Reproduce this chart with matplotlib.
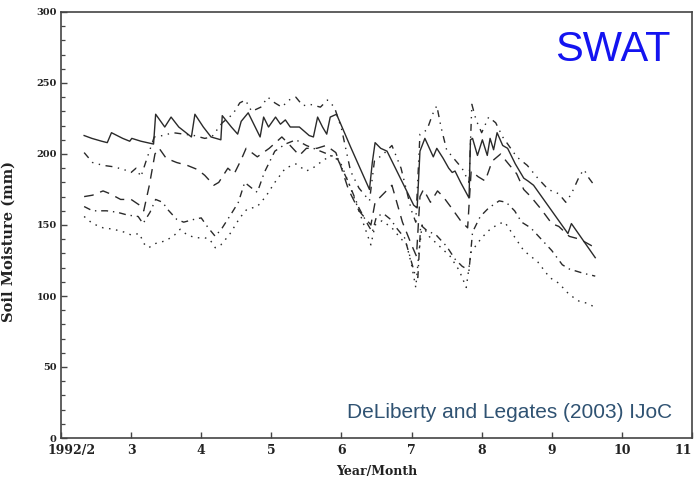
import matplotlib
matplotlib.use("Agg")
import matplotlib.pyplot as plt
from matplotlib.ticker import MultipleLocator, FixedLocator

plt.rcParams['lines.scale_dashes'] = False

# ---- data (x = month of 1992, y = soil moisture in mm) ----
solid_x = [2.33, 2.44, 2.58, 2.66, 2.72, 2.88, 2.98, 3.01, 3.14, 3.32, 3.35, 3.48, 3.57, 3.68, 3.86,
           3.91, 4.03, 4.14, 4.28, 4.30, 4.43, 4.52, 4.57, 4.67, 4.77, 4.84, 4.89, 4.96, 5.06, 5.13,
           5.20, 5.27, 5.40, 5.47, 5.54, 5.60, 5.66, 5.73, 5.79, 5.84, 5.93, 6.13, 6.40, 6.44, 6.48,
           6.56, 6.65, 6.69, 7.03, 7.08, 7.12, 7.19, 7.31, 7.36, 7.45, 7.53, 7.58, 7.62, 7.70, 7.82,
           7.84, 7.87, 7.94, 8.01, 8.08, 8.12, 8.17, 8.22, 8.30, 8.37, 8.48, 8.60, 8.66, 8.74, 9.23,
           9.28, 9.62]
solid_y = [213, 211, 209, 208, 215, 211, 209, 211, 209, 207, 228, 219, 226, 219, 212,
           228, 219, 212, 210, 227, 219, 214, 223, 229, 219, 212, 226, 219, 226, 221,
           224, 219, 219, 216, 213, 212, 226, 219, 214, 226, 228, 205, 175, 194, 208,
           204, 202, 198, 164, 162, 202, 211, 198, 204, 197, 190, 187, 188, 180, 169,
           210, 211, 199, 210, 199, 211, 203, 215, 206, 204, 193, 183, 181, 178, 144,
           151, 127]

ddot_x = [2.33, 2.45, 2.60, 2.75, 2.90, 3.00, 3.07, 3.14, 3.22, 3.33, 3.45, 3.60, 3.75, 3.90, 4.05,
          4.15, 4.30, 4.45, 4.55, 4.63, 4.72, 4.85, 4.95, 5.05, 5.15, 5.25, 5.35, 5.45, 5.55, 5.70,
          5.80, 5.90, 6.00, 6.13, 6.25, 6.40, 6.47, 6.60, 6.72, 6.85, 7.00, 7.06, 7.12, 7.22, 7.30,
          7.36, 7.42, 7.50, 7.60, 7.72, 7.82, 7.86, 7.92, 8.00, 8.10, 8.20, 8.30, 8.40, 8.50, 8.65,
          8.80, 8.95, 9.10, 9.20, 9.28, 9.40, 9.46, 9.53, 9.62]
ddot_y = [201, 194, 192, 191, 189, 187, 190, 184, 196, 212, 213, 215, 214, 213, 211,
          212, 222, 228, 236, 238, 230, 233, 240, 236, 233, 238, 240, 234, 235, 233,
          238, 233, 218, 188, 176, 167, 195, 200, 206, 190, 160, 152, 214, 217, 228,
          234, 219, 203, 197, 190, 180, 235, 224, 215, 226, 222, 212, 205, 198, 192,
          183, 175, 172, 166, 172, 185, 189, 183, 177]

dash_x = [2.33, 2.45, 2.60, 2.70, 2.85, 3.00, 3.12, 3.18, 3.26, 3.34, 3.40, 3.50, 3.65, 3.80, 3.95,
          4.05, 4.18, 4.25, 4.38, 4.47, 4.57, 4.64, 4.80, 4.97, 5.15, 5.25, 5.40, 5.50, 5.65, 5.78,
          5.92, 6.00, 6.10, 6.25, 6.42, 6.48, 6.60, 6.72, 6.87, 7.00, 7.07, 7.12, 7.17, 7.27, 7.37,
          7.45, 7.57, 7.70, 7.80, 7.85, 7.95, 8.05, 8.15, 8.27, 8.35, 8.50, 8.60, 8.70, 8.85, 9.00,
          9.10, 9.25, 9.40, 9.62]
dash_y = [170, 171, 174, 172, 168, 168, 164, 160, 178, 200, 204, 197, 194, 192, 189,
          185, 178, 180, 190, 186, 196, 204, 198, 204, 212, 207, 199, 204, 204, 206,
          201, 190, 175, 160, 150, 166, 172, 178, 152, 136, 128, 170, 175, 166, 174,
          170, 162, 153, 148, 188, 184, 181, 195, 200, 195, 186, 175, 170, 161, 151,
          149, 142, 140, 134]

dashdot_x = [2.33, 2.45, 2.65, 2.80, 2.95, 3.10, 3.17, 3.27, 3.35, 3.45, 3.52, 3.65, 3.75, 3.90, 4.00,
             4.10, 4.20, 4.30, 4.43, 4.53, 4.62, 4.72, 4.80, 4.90, 5.05, 5.20, 5.35, 5.50, 5.65, 5.80,
             5.95, 6.10, 6.25, 6.38, 6.44, 6.50, 6.60, 6.70, 6.80, 6.90, 6.97, 7.05, 7.09, 7.13, 7.22,
             7.35, 7.50, 7.62, 7.72, 7.82, 7.87, 7.98, 8.10, 8.25, 8.35, 8.47, 8.57, 8.70, 8.85, 9.00,
             9.15, 9.25, 9.45, 9.62]
dashdot_y = [163, 160, 160, 159, 157, 156, 151, 159, 168, 166, 161, 154, 152, 154, 155,
             148, 142, 148, 158, 166, 180, 176, 173, 187, 202, 207, 210, 206, 203, 200,
             196, 180, 162, 150, 145, 156, 158, 154, 147, 141, 129, 115, 113, 150, 146,
             143, 135, 126, 121, 118, 145, 156, 162, 167, 166, 160, 152, 148, 140, 132,
             122, 119, 116, 114]

dot_x = [2.33, 2.45, 2.60, 2.75, 2.90, 3.00, 3.12, 3.18, 3.25, 3.35, 3.50, 3.62, 3.70, 3.80, 3.92,
         4.05, 4.12, 4.20, 4.28, 4.40, 4.55, 4.65, 4.80, 4.92, 5.05, 5.20, 5.35, 5.50, 5.62, 5.75,
         5.88, 5.97, 6.10, 6.25, 6.42, 6.48, 6.58, 6.72, 6.82, 6.93, 7.00, 7.06, 7.10, 7.15, 7.25,
         7.40, 7.55, 7.68, 7.78, 7.85, 8.00, 8.12, 8.25, 8.33, 8.45, 8.60, 8.80, 8.97, 9.10, 9.25,
         9.40, 9.50, 9.62]
dot_y = [156, 151, 148, 147, 145, 143, 144, 137, 134, 137, 139, 143, 147, 143, 141,
         141, 140, 134, 136, 143, 155, 161, 163, 170, 180, 190, 193, 188, 191, 196,
         199, 196, 180, 160, 136, 150, 153, 148, 142, 136, 122, 106, 128, 150, 142,
         135, 128, 118, 106, 131, 141, 147, 151, 152, 143, 132, 124, 113, 109, 101,
         96, 95, 92]

x_ticks = [2, 3, 4, 5, 6, 7, 8, 9, 10, 11]
x_ticklabels = ['1992/2', '3', '4', '5', '6', '7', '8', '9', '10', '11']
y_ticks = [0, 50, 100, 150, 200, 250, 300]

# ---- figure ----
W, H = 695, 483
fig = plt.figure(figsize=(W / 100, H / 100), dpi=100)
ax = fig.add_axes([61 / W, 45 / H, (692 - 61) / W, (438 - 12) / H])

lc = '#2a2a2a'
lw = 1.0
ax.plot(solid_x, solid_y, color=lc, lw=lw, linestyle='-')
ax.plot(ddot_x, ddot_y, color=lc, lw=lw, linestyle=(0, (5, 4, 1, 4, 1, 4)))
ax.plot(dash_x, dash_y, color=lc, lw=lw, linestyle=(0, (7, 5)))
ax.plot(dashdot_x, dashdot_y, color=lc, lw=lw, linestyle=(0, (5, 3.5, 1, 3.5)))
ax.plot(dot_x, dot_y, color=lc, lw=lw, linestyle=(0, (1.1, 4)))

ax.set_xlim(2, 11)
ax.set_ylim(0, 300)
ax.xaxis.set_major_locator(FixedLocator(x_ticks))
# the first label is drawn separately below (it starts at the axis in the reference)
ax.set_xticklabels([''] + x_ticklabels[1:])
ax.yaxis.set_major_locator(FixedLocator(y_ticks))
ax.yaxis.set_minor_locator(MultipleLocator(10))

xfont = dict(family='DejaVu Serif', weight='bold', size=9, color='#222222')
for lab in ax.get_xticklabels():
    lab.set_fontfamily(xfont['family'])
    lab.set_fontweight(xfont['weight'])
    lab.set_fontsize(xfont['size'])
    lab.set_color(xfont['color'])
for lab in ax.get_yticklabels():
    lab.set_fontfamily('DejaVu Serif')
    lab.set_fontweight('bold')
    lab.set_fontsize(7)
    lab.set_color('#222222')

last = ax.get_xticklabels()[-1]
last.set_ha('right')

ax.annotate(x_ticklabels[0], xy=(x_ticks[0], 0), xycoords=('data', 'axes fraction'),
            xytext=(-10, -4), textcoords='offset points', ha='left', va='top', **xfont)

ax.tick_params(axis='both', which='major', direction='in', length=4.5, width=1,
               color='#444444', pad=3)
ax.tick_params(axis='y', which='minor', direction='in', length=3, width=0.9, color='#444444')
ax.tick_params(axis='x', pad=4)
for sp in ax.spines.values():
    sp.set_color('#444444')
    sp.set_linewidth(1.2)

ax.set_xlabel('Year/Month', family='DejaVu Serif', weight='bold', size=9, color='#222222',
              labelpad=6)
ax.set_ylabel('Soil Moisture (mm)', family='DejaVu Serif', weight='bold', size=10.5,
              color='#222222')
ax.yaxis.set_label_coords((16 - 61) / (692 - 61), (438 - 242) / (438 - 12))

fig.text(555 / W, 1 - 61 / H, 'SWAT', family='Liberation Sans', size=30, color='#1414f0',
         ha='left', va='baseline')
fig.text(347 / W, 1 - 418 / H, 'DeLiberty and Legates (2003) IJoC', family='Liberation Sans',
         size=15, color='#2f5272', ha='left', va='baseline')

fig.savefig('out.png', dpi=100)
